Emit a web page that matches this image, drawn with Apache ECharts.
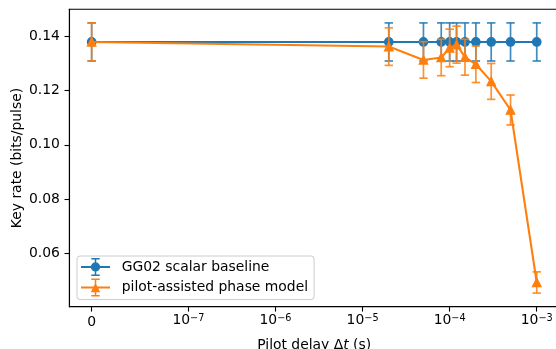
<!DOCTYPE html>
<html><head><meta charset="utf-8">
<script src="https://cdn.jsdelivr.net/npm/echarts@6/dist/echarts.min.js"></script>
<style>html,body{margin:0;padding:0;background:#fff}#c{width:556px;height:349px}</style>
</head><body><div id="c"></div><script>
// ---- data ----
const delays = [0, 2e-5, 5e-5, 8e-5, 1e-4, 1.2e-4, 1.5e-4, 2e-4, 3e-4, 5e-4, 1e-3];
const baselineRate = [0.1378, 0.1378, 0.1378, 0.1378, 0.1378, 0.1378, 0.1378, 0.1378, 0.1378, 0.1378, 0.1378];
const baselineErr = [0.0070, 0.0070, 0.0070, 0.0070, 0.0070, 0.0070, 0.0070, 0.0070, 0.0070, 0.0070, 0.0070];
const pilotRate = [0.1378, 0.1361, 0.1312, 0.1321, 0.1356, 0.1368, 0.1322, 0.1296, 0.1233, 0.1128, 0.0494];
const pilotErr = [0.0070, 0.0069, 0.0067, 0.0067, 0.0069, 0.0068, 0.0066, 0.0067, 0.0066, 0.0055, 0.0039];
const xTicks = [0, 1e-7, 1e-6, 1e-5, 1e-4, 1e-3];
const xTickBase = ['0', '10', '10', '10', '10', '10'];
const xTickExp = ['', '\u22127', '\u22126', '\u22125', '\u22124', '\u22123'];
const yTicks = [0.06, 0.08, 0.10, 0.12, 0.14];
const yTickLabels = ['0.06', '0.08', '0.10', '0.12', '0.14'];
const seriesNames = ['GG02 scalar baseline', 'pilot-assisted phase model'];

// ---- symlog scale (linthresh 1e-7, linscale 1, base 10) ----
const LINTHRESH = 1e-7, LINSCALE_ADJ = 1 / (1 - 1 / 10);
function symlog(x) {
  const a = Math.abs(x);
  if (a <= LINTHRESH) return x / LINTHRESH * LINSCALE_ADJ;
  return Math.sign(x) * (LINSCALE_ADJ + Math.log10(a / LINTHRESH));
}
const tx = delays.map(symlog);
const span = Math.max(...tx) - Math.min(...tx);
const X_MIN = Math.min(...tx) - 0.05 * span, X_MAX = Math.max(...tx) + 0.05 * span;
const xTickPos = xTicks.map(symlog);

const FONT = 'DejaVu Sans';
const FS = 13.9;
const BLUE = '#1f77b4', ORANGE = '#ff7f0e';

function nearestIdx(arr, v) {
  let b = 0; for (let i = 1; i < arr.length; i++) if (Math.abs(arr[i] - v) < Math.abs(arr[b] - v)) b = i; return b;
}

function errSeries(name, rates, errs, color, z) {
  return {
    type: 'custom', name: name, z: z, silent: true, animation: false,
    data: delays.map((d, i) => [symlog(d), rates[i] - errs[i], rates[i] + errs[i]]),
    encode: { x: 0, y: [1, 2] },
    renderItem: function (params, api) {
      const x = api.value(0);
      const lo = api.coord([x, api.value(1)]);
      const hi = api.coord([x, api.value(2)]);
      const cw = 4.2;
      const st = { stroke: color, lineWidth: 1.7, opacity: 0.85 };
      return {
        type: 'group', children: [
          { type: 'line', shape: { x1: lo[0], y1: lo[1], x2: hi[0], y2: hi[1] }, style: st },
          { type: 'line', shape: { x1: lo[0] - cw, y1: lo[1], x2: lo[0] + cw, y2: lo[1] }, style: st },
          { type: 'line', shape: { x1: hi[0] - cw, y1: hi[1], x2: hi[0] + cw, y2: hi[1] }, style: st }
        ]
      };
    }
  };
}

function lineSeries(name, rates, color, symbol, z) {
  return {
    type: 'line', name: name, z: z, animation: false,
    data: delays.map((d, i) => [symlog(d), rates[i]]),
    symbol: symbol, symbolSize: 8.3, showSymbol: true,
    lineStyle: { color: color, width: 2.08 },
    itemStyle: { color: color, borderColor: color, borderWidth: 1.39 },
    emphasis: { disabled: true }
  };
}

const barPath = 'M0 8 H29 V10 H0 Z M13.75 0 H15.25 V18 H13.75 Z M10.3 0 H18.7 V1.5 H10.3 Z M10.3 16.5 H18.7 V18 H10.3 Z ';
const iconCircle = 'path://' + barPath + 'M9.8 9 A4.7 4.7 0 1 1 19.2 9 A4.7 4.7 0 1 1 9.8 9 Z';
const iconTri = 'path://' + barPath + 'M14.5 4.2 L19.2 13.6 L9.8 13.6 Z';

const chart = echarts.init(document.getElementById('c'), null, { renderer: 'canvas' });
chart.setOption({
  animation: false,
  backgroundColor: '#ffffff',
  textStyle: { fontFamily: FONT },
  grid: { left: 69.4, top: 9.3, width: 489.6, height: 297.4, show: true, borderColor: '#000', borderWidth: 1.1, containLabel: false, outerBoundsMode: 'none' },
  legend: {
    orient: 'vertical', left: 77, top: 256,
    padding: [2, 6, 3, 4], itemGap: 2.6, itemWidth: 29, itemHeight: 18,
    backgroundColor: 'rgba(255,255,255,0.8)', borderColor: '#cccccc', borderWidth: 1, borderRadius: 3,
    selectedMode: false,
    itemStyle: { borderWidth: 0 },
    textStyle: { fontSize: FS, fontFamily: FONT, color: '#000', padding: [0, 0, 0, 6.7], lineHeight: 18 },
    data: [{ name: seriesNames[0], icon: iconCircle }, { name: seriesNames[1], icon: iconTri }]
  },
  xAxis: {
    type: 'value', min: X_MIN, max: X_MAX,
    axisLine: { show: true, onZero: false, lineStyle: { color: '#000', width: 1.1 } },
    axisTick: { show: true, customValues: xTickPos, length: 4.9, lineStyle: { color: '#000', width: 1.1 } },
    splitLine: { show: false },
    axisLabel: {
      customValues: xTickPos, margin: 6.5, color: '#000', fontFamily: FONT, fontSize: FS,
      formatter: function (v) {
        const i = nearestIdx(xTickPos, v);
        if (!xTickExp[i]) return '{z|' + xTickBase[i] + '}';
        return '{b|' + xTickBase[i] + '}{s|' + xTickExp[i] + '}';
      },
      rich: {
        z: { fontSize: FS, fontFamily: FONT, color: '#000', lineHeight: 14, padding: [3.4, 0, 0, 0] },
        b: { fontSize: FS, fontFamily: FONT, color: '#000', lineHeight: 14, padding: [5, 0, 0, 0], verticalAlign: 'bottom' },
        s: { fontSize: 9.7, fontFamily: FONT, color: '#000', lineHeight: 10, verticalAlign: 'top' }
      }
    },
    name: 'Pilot delay \u0394{i|t} (s)', nameLocation: 'middle', nameGap: 31.5, nameMoveOverlap: false,
    nameTextStyle: { fontSize: FS, fontFamily: FONT, color: '#000', rich: { i: { fontSize: FS, fontFamily: FONT, fontStyle: 'italic', color: '#000' } } }
  },
  yAxis: {
    type: 'value', min: 0.0405, max: 0.1498,
    axisLine: { show: true, onZero: false, lineStyle: { color: '#000', width: 1.1 } },
    axisTick: { show: true, customValues: yTicks, length: 4.9, lineStyle: { color: '#000', width: 1.1 } },
    splitLine: { show: false },
    axisLabel: {
      customValues: yTicks, margin: 9.5, color: '#000', fontFamily: FONT, fontSize: FS,
      formatter: function (v) { return yTickLabels[nearestIdx(yTicks, v)]; }
    },
    name: 'Key rate (bits/pulse)', nameLocation: 'middle', nameGap: 45.5, nameMoveOverlap: false,
    nameTextStyle: { fontSize: FS, fontFamily: FONT, color: '#000' }
  },
  series: [
    errSeries('err0', baselineRate, baselineErr, BLUE, 1),
    lineSeries(seriesNames[0], baselineRate, BLUE, 'circle', 2),
    errSeries('err1', pilotRate, pilotErr, ORANGE, 3),
    lineSeries(seriesNames[1], pilotRate, ORANGE, 'triangle', 4)
  ]
});
</script></body></html>
